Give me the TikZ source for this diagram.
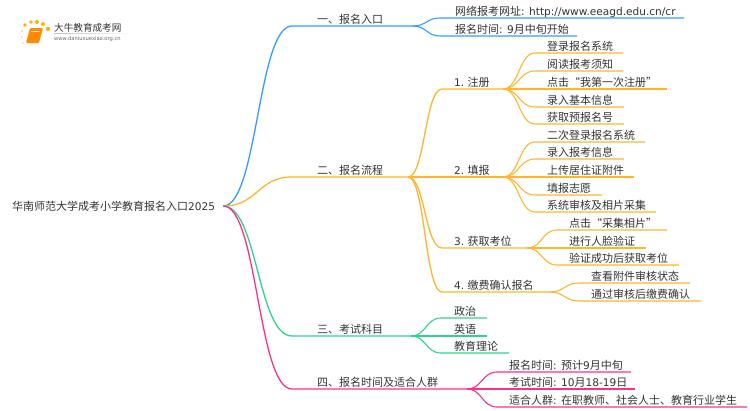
\documentclass[tikz,border=0pt]{standalone}
\usepackage{fontspec}
\setmainfont{Noto Sans CJK SC}
\newfontfamily\lat[Scale=0.96]{DejaVu Sans}
\usetikzlibrary{calc}
\definecolor{mapblue}{HTML}{339CFF}
\definecolor{maporange}{HTML}{FFB52E}
\definecolor{mapgreen}{HTML}{2ED48C}
\definecolor{mappink}{HTML}{FF2E8B}
\definecolor{maptext}{HTML}{333333}
\tikzset{
	lab/.style={inner sep=0, anchor=base west, text=maptext, font=\fontsize{11}{13}\selectfont},
	bough/.style={line width=1.3pt},
	leafline/.style={line width=1.1pt},
}
% colour, parent point, name, (start x, y, end x), text x, text
\def\twig[#1](#2)(#3)(#4,#5,#6)(#7)#8{
	\coordinate (#3a) at (#4,#5);
	\coordinate (#3b) at (#6,#5);
	\node[lab] (#3) at (#7,{#5-2.8}) {#8};
	\draw[#1] (#2) .. controls ($(#2)!0.5!(#2 -| #3a)$) and ($(#3a)!0.5!(#3a -| #2)$) .. (#3a) -- (#3b);
}

\begin{document}
\begin{tikzpicture}[x=1pt, y=-1pt]
	\useasboundingbox (0, 0) rectangle (750, 410);
	%%%%% LOGO %%%%%
	\fill[rounded corners=1pt, color=orange!90!yellow] (30, 28) -- (43, 28) -- (39, 43) -- (26, 43) -- cycle;
	\draw[line width=0.5pt, color=white!80!orange] (31, 31) -- (40, 31);
	\fill[color=orange!60!yellow] (25, 25) circle (1.8);
	\fill[color=orange!60!yellow] (31, 22) circle (1.9);
	\fill[color=orange!60!yellow] (37, 22) circle (2);
	\fill[color=orange!60!yellow] (43, 24) circle (2);
	\fill[color=orange!60!yellow] (48, 29) circle (2.2);
	\fill[color=orange!40!white] (22, 31) circle (1.2);
	\fill[color=orange!40!white] (22, 37) circle (1);
	\fill[color=orange!40!white] (23, 43) circle (0.8);
	\node[inner sep=0, anchor=west, text=maptext, font=\fontsize{9.6}{11}\selectfont] (logoname) at (54, 27.5) {大牛教育成考网};
	\node[inner sep=0, anchor=west, text=black!60, font=\fontsize{5.4}{6}\lat] (logourl) at (54, 39) {www.daniuxuexiao.org.cn};
	\shade[left color=black!25, right color=white] (54, 33) rectangle (134, 33.6);

	%%%%% ROOT %%%%%
	\node[lab, anchor=west, inner xsep=8pt] (root) at (4, 206) {华南师范大学成考小学教育报名入口{\lat 2025}};

	%%%%% BLUE %%%%%
	\twig[mapblue, bough](root.east)(entry)(292,26,413)(317){一、报名入口}
	\twig[mapblue, leafline](entryb)(site)(440,18,684)(455){网络报考网址{\lat : http://www.eeagd.edu.cn/cr}}
	\twig[mapblue, leafline](entryb)(start)(440,36,577)(455){报名时间{\lat : 9}月中旬开始}

	%%%%% ORANGE %%%%%
	\twig[maporange, bough](root.east)(flow)(292,177,408)(317){二、报名流程}

	\twig[maporange, bough](flowb)(reg)(442,89,503)(454){{\lat 1.} 注册}
	\twig[maporange, leafline](regb)(rega)(535,53,623)(547){登录报名系统}
	\twig[maporange, leafline](regb)(regc)(535,71,623)(547){阅读报考须知}
	\twig[maporange, leafline](regb)(regd)(535,89,667)(547){点击“我第一次注册”}
	\twig[maporange, leafline](regb)(rege)(535,107,624)(547){录入基本信息}
	\twig[maporange, leafline](regb)(regf)(535,124,624)(547){获取预报名号}

	\twig[maporange, bough](flowb)(fill)(442,177,503)(454){{\lat 2.} 填报}
	\twig[maporange, leafline](fillb)(filla)(535,142,645)(547){二次登录报名系统}
	\twig[maporange, leafline](fillb)(fillc)(535,159,624)(547){录入报考信息}
	\twig[maporange, leafline](fillb)(filld)(535,177,634)(547){上传居住证附件}
	\twig[maporange, leafline](fillb)(fille)(535,195,602)(547){填报志愿}
	\twig[maporange, leafline](fillb)(fillf)(535,212,656)(547){系统审核及相片采集}

	\twig[maporange, bough](flowb)(seat)(442,248,527)(454){{\lat 3.} 获取考位}
	\twig[maporange, leafline](seatb)(seata)(557,230,667)(569){点击“采集相片”}
	\twig[maporange, leafline](seatb)(seatc)(557,248,646)(569){进行人脸验证}
	\twig[maporange, leafline](seatb)(seatd)(557,265,679)(569){验证成功后获取考位}

	\twig[maporange, bough](flowb)(pay)(442,292,550)(454){{\lat 4.} 缴费确认报名}
	\twig[maporange, leafline](payb)(paya)(579,283,690)(591){查看附件审核状态}
	\twig[maporange, leafline](payb)(payc)(579,301,701)(591){通过审核后缴费确认}

	%%%%% GREEN %%%%%
	\twig[mapgreen, bough](root.east)(exam)(292,336,411)(317){三、考试科目}
	\twig[mapgreen, leafline](examb)(exama)(441,318,487)(454){政治}
	\twig[mapgreen, leafline](examb)(examc)(441,336,487)(454){英语}
	\twig[mapgreen, leafline](examb)(examd)(441,353,509)(454){教育理论}

	%%%%% PINK %%%%%
	\twig[mappink, bough](root.east)(time)(292,389,467)(317){四、报名时间及适合人群}
	\twig[mappink, leafline](timeb)(timea)(497,372,631)(509){报名时间{\lat : }预计{\lat 9}月中旬}
	\twig[mappink, leafline](timeb)(timec)(497,389,635)(509){考试时间{\lat : 10}月{\lat 18-19}日}
	\twig[mappink, leafline](timeb)(timed)(497,407,747)(509){适合人群{\lat : }在职教师、社会人士、教育行业学生}
\end{tikzpicture}
\end{document}
